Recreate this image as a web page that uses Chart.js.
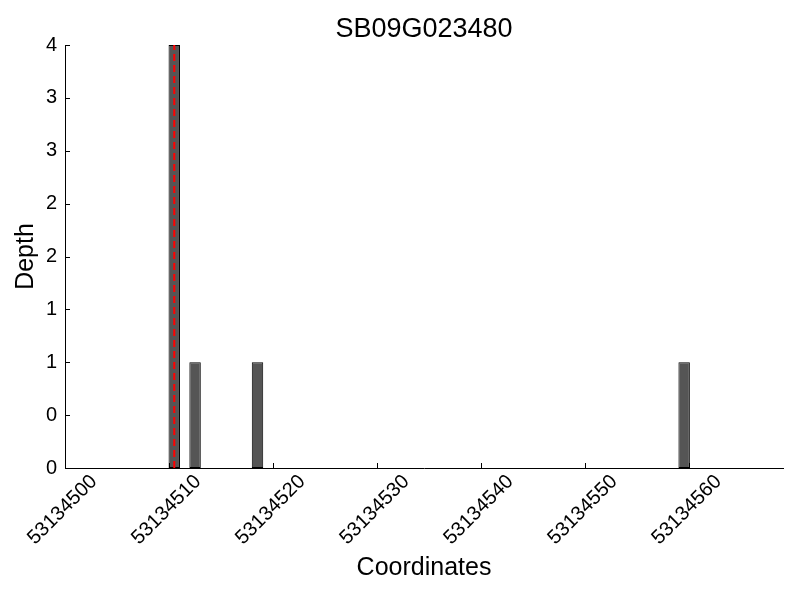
<!DOCTYPE html>
<html>
<head>
<meta charset="utf-8">
<title>SB09G023480</title>
<script src="https://cdn.jsdelivr.net/npm/chart.js@4"></script>
<style>
  html, body { margin: 0; padding: 0; background: #fff; }
  #wrap { width: 800px; height: 600px; }
</style>
</head>
<body>
<div id="wrap"><canvas id="depthChart" width="800" height="600"></canvas></div>
<script>
// Read coverage at each genomic coordinate (bin start, bin width is 1 bp)
const chartTitle = 'SB09G023480';
const binStarts = [53134510, 53134512, 53134518, 53134559];
const depths = [4, 1, 1, 1];
const binWidth = 1;
// Position marked by the red dashed line
const markerPos = 53134510.5;
const xRange = [53134500, 53134569];
const yRange = [0, 4];
const xTickStep = 10;
const yTickStep = 0.5;

const FONT = '"Liberation Sans", Arial, Helvetica, sans-serif';

// Bars are placed at the centre of each bin
const barData = binStarts.map((s, i) => ({ x: s + binWidth / 2, y: depths[i] }));
const markerData = [{ x: markerPos, y: yRange[0] }, { x: markerPos, y: yRange[1] }];

// Title over the plot area and inward tick marks, like the original figure
const extrasPlugin = {
  id: 'extras',
  afterDraw(chart) {
    const { ctx, chartArea, scales } = chart;
    ctx.save();
    ctx.strokeStyle = '#000';
    ctx.lineWidth = 1;
    scales.y.ticks.forEach((t, i) => {
      const y = Math.round(scales.y.getPixelForTick(i)) + 0.5;
      ctx.beginPath();
      ctx.moveTo(chartArea.left, y);
      ctx.lineTo(chartArea.left + 5, y);
      ctx.stroke();
    });
    scales.x.ticks.forEach((t, i) => {
      const x = Math.round(scales.x.getPixelForTick(i)) + 0.5;
      ctx.beginPath();
      ctx.moveTo(x, chartArea.bottom);
      ctx.lineTo(x, chartArea.bottom - 5);
      ctx.stroke();
    });
    ctx.fillStyle = '#000';
    ctx.font = '27px ' + FONT;
    ctx.textAlign = 'center';
    ctx.textBaseline = 'alphabetic';
    ctx.fillText(chartTitle, (chartArea.left + chartArea.right) / 2, 37);
    ctx.restore();
  }
};

new Chart(document.getElementById('depthChart').getContext('2d'), {
  data: {
    datasets: [
      {
        type: 'line',
        label: 'marker',
        data: markerData,
        borderColor: '#ff0000',
        borderWidth: 2,
        borderDash: [7, 4],
        pointRadius: 0,
        fill: false,
        order: 0
      },
      {
        type: 'bar',
        label: 'Depth',
        data: barData,
        backgroundColor: '#555555',
        borderColor: '#000000',
        borderWidth: 1,
        borderSkipped: false,
        barPercentage: 0.55,
        categoryPercentage: 1,
        order: 1
      }
    ]
  },
  options: {
    responsive: false,
    animation: false,
    layout: { padding: { top: 45, right: 17, left: 0, bottom: 0 } },
    plugins: {
      legend: { display: false },
      title: { display: false },
      tooltip: { enabled: false }
    },
    scales: {
      x: {
        type: 'linear',
        min: xRange[0],
        max: xRange[1],
        offset: false,
        grid: { display: false, drawTicks: false, offset: false },
        border: { display: true, color: '#000', width: 1 },
        afterBuildTicks(scale) {
          scale.ticks = scale.ticks.filter(t => (t.value - xRange[0]) % xTickStep === 0);
        },
        ticks: {
          stepSize: xTickStep,
          autoSkip: false,
          minRotation: 45,
          maxRotation: 45,
          padding: 2,
          labelOffset: 29,
          color: '#000',
          font: { family: FONT, size: 20 },
          callback: v => String(v)
        },
        title: {
          display: true,
          text: 'Coordinates',
          color: '#000',
          font: { family: FONT, size: 25 },
          padding: { top: 0, bottom: 17 }
        },
        afterFit(scale) { scale.height = 132; }
      },
      y: {
        type: 'linear',
        min: yRange[0],
        max: yRange[1],
        grid: { display: false, drawTicks: false },
        border: { display: true, color: '#000', width: 1 },
        ticks: {
          stepSize: yTickStep,
          autoSkip: false,
          padding: 8,
          color: '#000',
          font: { family: FONT, size: 20 },
          callback: v => String(Math.floor(v))
        },
        title: {
          display: true,
          text: 'Depth',
          color: '#000',
          font: { family: FONT, size: 25 },
          padding: { top: 11, bottom: 0 }
        },
        afterFit(scale) { scale.width = 65; }
      }
    }
  },
  plugins: [extrasPlugin]
});
</script>
</body>
</html>
